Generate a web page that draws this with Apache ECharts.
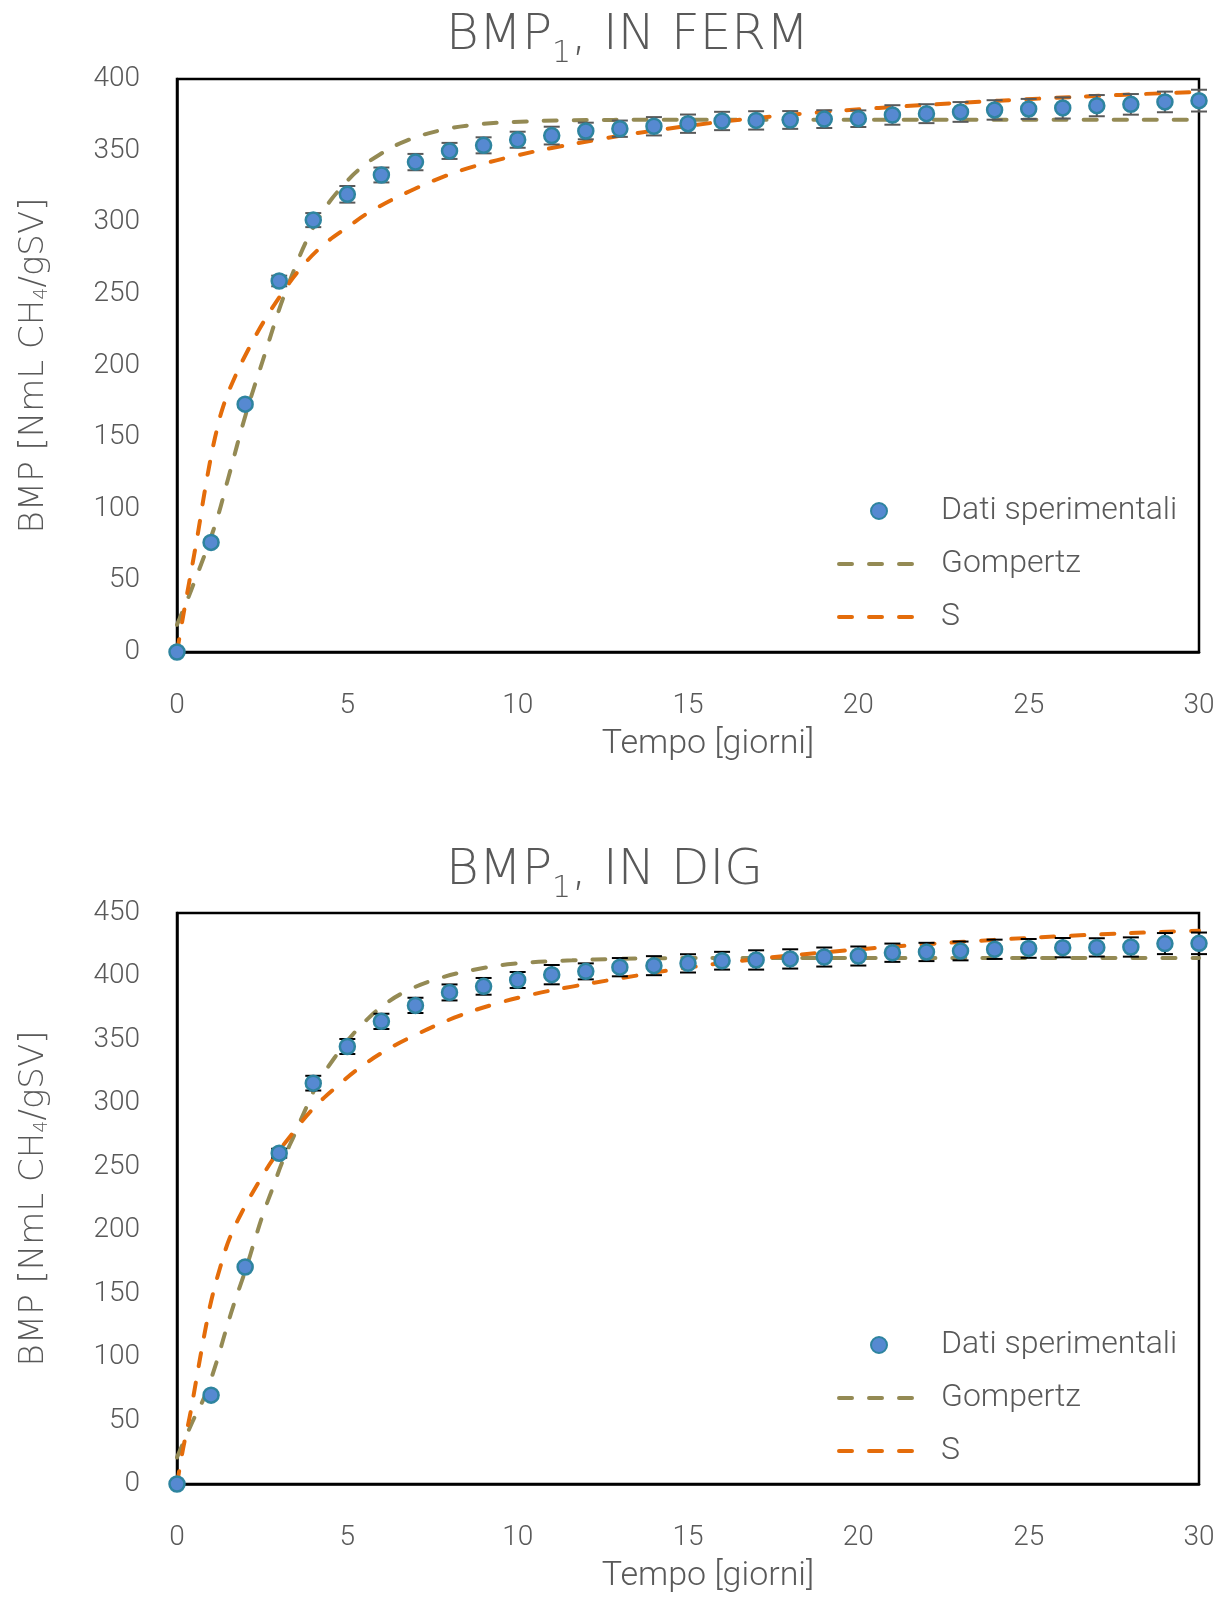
<!DOCTYPE html>
<html>
<head>
<meta charset="utf-8">
<title>BMP1</title>
<script src="https://cdn.jsdelivr.net/npm/echarts@6/dist/echarts.min.js"></script>
<style>
	html,body{margin:0;padding:0;background:#fff;}
	#app{width:1227px;height:1597px;}
</style>
</head>
<body>
<div id="app"></div>
<script>
	// giorni 0..30
	var days = [];
	for(var d=0;d<=30;d++) days.push(d);

	// BMP1, IN FERM  - dati sperimentali e deviazione
	var fermData = [0, 76.5, 173, 259, 301.5, 319.5, 333, 342, 349.8, 353.7, 357.6, 360.5, 363.7, 365.3, 367, 368.8,
		370.7, 371.1, 371.4, 372, 372.3, 374.9, 375.8, 377, 378.4, 379.1, 379.8, 381.4, 382.3, 384, 384.9];
	var fermErr = [0, 0, 1.5, 3.7, 4.9, 5.8, 5.2, 5.7, 5.6, 5.6, 5.6, 6.2, 5.8, 5.7, 6.4, 6.4,
		6.4, 6.4, 6.2, 6.2, 5.8, 6.8, 6.6, 6.9, 6.8, 7, 7.4, 7.4, 7.2, 7.2, 7.6];
	// curve modello
	var fermGompT = [0, 0.43, 1.11, 1.5, 2.02, 2.58, 3.07, 3.46, 3.8, 4.14, 4.5, 4.89, 5.3, 5.93, 6.74, 7.79, 8.72, 9.88, 11.6, 14, 20, 25, 30];
	var fermGompV = [19, 44, 88, 121, 166, 208, 244, 268, 287, 302, 315, 326, 336, 347, 357, 364.5, 368, 370, 371.2, 371.5, 371.5, 371.5, 371.5];
	var fermST = [0, 0.18, 0.36, 0.52, 0.65, 0.77, 0.94, 1.11, 1.35, 1.7, 2.09, 2.53, 3.07, 3.6, 4.24, 4.97, 5.75, 6.86, 7.79, 8.72,
		9.86, 11.04, 12.43, 13.58, 15.93, 18.27, 20.6, 22.97, 25.3, 27.7, 30];
	var fermSV = [0, 25, 49, 70, 88, 106, 129, 149, 171, 192, 211, 230, 250, 267, 283, 296, 308.5, 322, 331.5, 339,
		346, 352, 358, 362.5, 370, 375.6, 379.8, 383.3, 386.3, 388.9, 391];

	// BMP1, IN DIG
	var digData = [0, 70, 171, 260.7, 315.9, 344.8, 364.6, 377.2, 387.4, 392.2, 397.2, 401.4, 404, 407.3, 408.5, 410.3,
		412.4, 413, 413.8, 415.3, 416.1, 418.7, 419.3, 420.1, 421.4, 422.1, 422.7, 422.9, 423.2, 425.9, 426.1];
	var digErr = [0, 0, 1, 3.5, 5.8, 5.9, 6, 6, 6.3, 6.6, 6.3, 7.6, 6.3, 7.2, 7.5, 7.2,
		7, 7.6, 7.6, 7.5, 7.5, 7.2, 7.2, 7.4, 7.6, 7.4, 7.6, 7.2, 7.6, 8.3, 8.5];
	var digGompT = [0, 0.47, 0.81, 1.16, 1.4, 1.65, 2.04, 2.28, 2.53, 2.82, 3.11, 3.46, 3.8, 4.14, 4.68, 5.12, 5.5, 6, 6.63,
		7.56, 8.72, 9.87, 11.6, 12.9, 15, 20, 25, 30];
	var digGompV = [21, 50, 69, 96, 118, 140, 171, 192, 213, 234, 255, 276, 297, 316, 338, 353, 364, 376, 387,
		397.4, 405.3, 410, 412.7, 413.8, 414.5, 414.5, 414.5, 414.5];
	var digST = [0, 0.18, 0.38, 0.52, 0.67, 0.82, 1.01, 1.26, 1.55, 1.94, 2.38, 2.82, 3.41, 4, 4.68, 5.36, 6.15, 6.93, 8.14,
		9.3, 10.46, 11.6, 12.9, 14.75, 17.1, 19.45, 21.8, 24.1, 26.5, 29.4, 30];
	var digSV = [0, 28, 54, 75, 98, 120, 145, 170, 194, 216, 237, 256, 277, 296, 313, 328, 342, 353, 367.5,
		378, 386, 392, 398, 406, 414, 420, 425, 429, 432.4, 435.6, 436];

	var xTicks = [0, 30, 5];        // min, max, interval
	var yTicksFerm = [0, 400, 50];
	var yTicksDig = [0, 450, 50];

	var legendNames = ['Dati sperimentali', 'Gompertz', 'S'];
	var FONT = 'Roboto, "Noto Sans", sans-serif';
	var WIDE = '"DejaVu Sans", Roboto, sans-serif';
	var GREY = '#595959';

	function pairs(t, v){
		var out = [];
		for(var i=0;i<t.length;i++) out.push([t[i], v[i]]);
		return out;
	}
	function errRows(vals, errs){
		var out = [];
		for(var i=0;i<vals.length;i++) out.push([days[i], vals[i]-errs[i], vals[i]+errs[i]]);
		return out;
	}

	function makeAxes(idx, yt){
		var x = {
			type:'value', gridIndex:idx, min:xTicks[0], max:xTicks[1], interval:xTicks[2],
			splitLine:{show:false}, axisTick:{show:false},
			axisLine:{show:true, lineStyle:{color:'#000', width:2.5}},
			axisLabel:{color:GREY, fontSize:28, fontFamily:FONT, fontWeight:300, margin:40},
			name:'Tempo [giorni]', nameLocation:'middle', nameGap:75,
			nameTextStyle:{color:GREY, fontSize:34, fontFamily:FONT, fontWeight:300, padding:[0,0,0,40]}
		};
		var y = {
			type:'value', gridIndex:idx, min:yt[0], max:yt[1], interval:yt[2],
			splitLine:{show:false}, axisTick:{show:false},
			axisLine:{show:true, lineStyle:{color:'#000', width:2.5}},
			axisLabel:{color:GREY, fontSize:28, fontFamily:FONT, fontWeight:300, margin:37},
			name:'BMP [NmL CH{s|4}/gSV]', nameLocation:'middle', nameGap:125,
			nameTextStyle:{color:GREY, fontSize:34, fontFamily:WIDE, fontWeight:200, lineHeight:36,
				rich:{ s:{fontSize:19, lineHeight:19, verticalAlign:'bottom', color:GREY, fontFamily:WIDE, fontWeight:200} }}
		};
		return [x, y];
	}

	function errSeries(idx, rows, color){
		return {
			type:'custom', name:'err'+idx, xAxisIndex:idx, yAxisIndex:idx, z:3,
			data: rows,
			renderItem:function(params, api){
				var lo = api.coord([api.value(0), api.value(1)]);
				var hi = api.coord([api.value(0), api.value(2)]);
				var w = 8, st = {stroke:color, lineWidth:2};
				return { type:'group', children:[
					{ type:'line', shape:{x1:hi[0], y1:hi[1], x2:lo[0], y2:lo[1]}, style:st },
					{ type:'line', shape:{x1:hi[0]-w, y1:hi[1], x2:hi[0]+w, y2:hi[1]}, style:st },
					{ type:'line', shape:{x1:lo[0]-w, y1:lo[1], x2:lo[0]+w, y2:lo[1]}, style:st }
				]};
			}
		};
	}

	function curve(idx, name, data, color){
		return {
			type:'line', name:name, xAxisIndex:idx, yAxisIndex:idx, z:2,
			data:data, smooth:0.4, symbol:'none', showSymbol:false,
			lineStyle:{color:color, width:4, type:[13,17], cap:'round'},
			itemStyle:{color:color}
		};
	}

	function points(idx, vals){
		return {
			type:'scatter', name:legendNames[0], xAxisIndex:idx, yAxisIndex:idx, z:4,
			data:pairs(days, vals), symbol:'circle', symbolSize:15,
			itemStyle:{color:'#5689D1', borderColor:'#2E849F', borderWidth:2.5, opacity:1}
		};
	}

	function legendAt(top){
		return {
			data:[
				{ name:legendNames[0] },
				{ name:legendNames[1], itemStyle:{opacity:0} },
				{ name:legendNames[2], itemStyle:{opacity:0} }
			],
			orient:'vertical', left:837, top:top,
			itemWidth:80, itemHeight:16, itemGap:21, padding:0,
			lineStyle:{width:4},
			formatter:'{t|{name}}',
			textStyle:{color:GREY, fontSize:32, fontFamily:FONT, fontWeight:300, lineHeight:32,
				rich:{ t:{padding:[0,0,0,17], color:GREY, fontSize:32, fontFamily:FONT, fontWeight:300} }}
		};
	}

	function titleAt(top, rest){
		return {
			text:'{a|BMP}{s|1}{a|, ' + rest + '}', left:446, top:top, padding:0,
			textStyle:{
				rich:{
					a:{fontSize:50, lineHeight:65, color:GREY, fontFamily:WIDE, fontWeight:200},
					s:{fontSize:30, lineHeight:30, verticalAlign:'bottom', color:GREY, fontFamily:WIDE, fontWeight:200}
				}
			}
		};
	}

	var ax0 = makeAxes(0, yTicksFerm), ax1 = makeAxes(1, yTicksDig);
	var chart = echarts.init(document.getElementById('app'), null, {renderer:'canvas'});
	chart.setOption({
		backgroundColor:'#fff',
		animation:false,
		title:[ titleAt(4, 'IN FERM'), titleAt(839, 'IN DIG') ],
		legend:[ legendAt(495), legendAt(1329) ],
		grid:[
			{ left:177, top:79, width:1022, height:573, show:true, borderColor:'#000', borderWidth:2.5, containLabel:false },
			{ left:177, top:913, width:1022, height:571, show:true, borderColor:'#000', borderWidth:2.5, containLabel:false }
		],
		xAxis:[ ax0[0], ax1[0] ],
		yAxis:[ ax0[1], ax1[1] ],
		series:[
			curve(0, 'Gompertz', pairs(fermGompT, fermGompV), '#948A54'),
			curve(0, 'S', pairs(fermST, fermSV), '#E46C0A'),
			errSeries(0, errRows(fermData, fermErr), '#595959'),
			points(0, fermData),
			curve(1, 'Gompertz', pairs(digGompT, digGompV), '#948A54'),
			curve(1, 'S', pairs(digST, digSV), '#E46C0A'),
			errSeries(1, errRows(digData, digErr), '#000'),
			points(1, digData)
		]
	});
</script>
</body>
</html>
